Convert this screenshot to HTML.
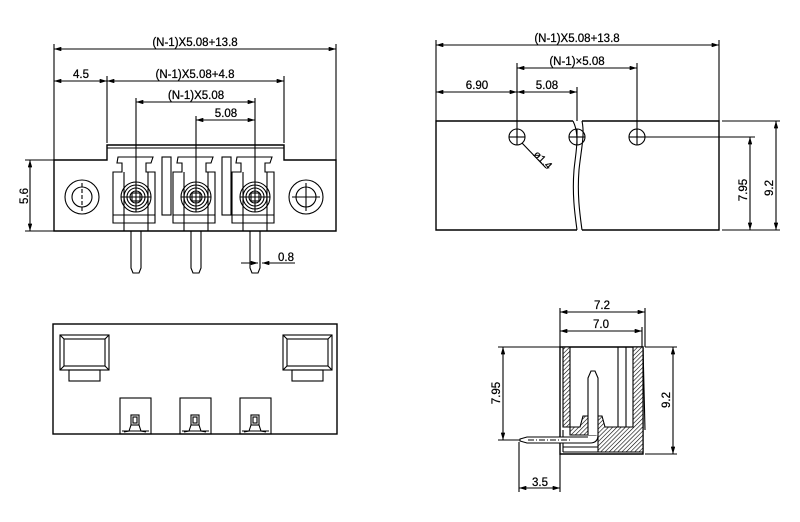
<!DOCTYPE html>
<html><head><meta charset="utf-8"><style>
html,body{margin:0;padding:0;background:#fff}
svg{display:block}
text{font-family:"Liberation Sans",sans-serif;font-size:11.5px;fill:#000;stroke:#000;stroke-width:0.25}
</style></head><body>
<svg width="800" height="522" viewBox="0 0 800 522" xmlns="http://www.w3.org/2000/svg">
<defs>
<pattern id="h" width="3" height="3" patternUnits="userSpaceOnUse" patternTransform="rotate(45)">
<rect width="3" height="3" fill="#fff"/><line x1="0" y1="0" x2="0" y2="3" stroke="#000" stroke-width="1.2"/></pattern>
<marker id="a" viewBox="0 0 10 6" refX="10" refY="3" markerWidth="8" markerHeight="4" orient="auto-start-reverse"><path d="M0,0L10,3L0,6z"/></marker>
</defs>
<g stroke="#000" fill="none" stroke-width="1.1">
<!-- TOP LEFT -->
<line x1="54" y1="44" x2="54" y2="160"/><line x1="336" y1="44" x2="336" y2="160"/>
<line x1="54" y1="49" x2="336" y2="49" marker-start="url(#a)" marker-end="url(#a)"/>
<line x1="107" y1="76" x2="107" y2="143"/><line x1="284" y1="76" x2="284" y2="143"/>
<line x1="54" y1="81" x2="107" y2="81" marker-start="url(#a)" marker-end="url(#a)"/>
<line x1="107" y1="81" x2="284" y2="81" marker-start="url(#a)" marker-end="url(#a)"/>
<line x1="136" y1="98" x2="136" y2="212"/><line x1="255" y1="98" x2="255" y2="212"/><line x1="196" y1="116" x2="196" y2="212"/>
<line x1="136" y1="102" x2="255" y2="102" marker-start="url(#a)" marker-end="url(#a)"/>
<line x1="196" y1="120" x2="255" y2="120" marker-start="url(#a)" marker-end="url(#a)"/>
<path d="M54,160 H107 V145 H284 V160 H336 V231 H54 Z" stroke-width="1.4"/>
<line x1="107" y1="148" x2="284" y2="148"/>
<line x1="25" y1="160" x2="54" y2="160"/><line x1="25" y1="231" x2="54" y2="231"/>
<line x1="30" y1="160" x2="30" y2="231" marker-start="url(#a)" marker-end="url(#a)"/>
<circle cx="82" cy="197" r="17"/><circle cx="82" cy="197" r="10"/>
<line x1="82" y1="183" x2="82" y2="211" stroke-dasharray="4,2"/>
<circle cx="306" cy="197" r="17"/><circle cx="306" cy="197" r="10"/>
<line x1="292" y1="197" x2="320" y2="197"/><line x1="306" y1="183" x2="306" y2="211"/>
<g id="cell">
<path d="M118,157 H153 L151,163 H146 V172 H155 V223 H113 V172 H122 V163 H117 Z"/>
<line x1="124" y1="172" x2="124" y2="231"/><line x1="148" y1="172" x2="148" y2="231"/>
<line x1="113" y1="215" x2="155" y2="215"/>
<circle cx="136" cy="197" r="15"/><circle cx="136" cy="197" r="12"/><circle cx="136" cy="197" r="9"/><circle cx="136" cy="197" r="6"/>
<rect x="132" y="193" width="8" height="8"/>
<line x1="121" y1="197" x2="151" y2="197"/>
<path d="M131,231 V268 L133,273 H139 L141,268 V231"/>
</g>
<use href="#cell" x="60"/><use href="#cell" x="119"/>
<rect x="162" y="157" width="9" height="58"/><rect x="222" y="157" width="9" height="58"/>
<line x1="241" y1="263" x2="258" y2="263" marker-end="url(#a)"/>
<line x1="283" y1="263" x2="262" y2="263" marker-end="url(#a)"/>
<line x1="262" y1="263" x2="295" y2="263"/>
<!-- TOP RIGHT -->
<line x1="436" y1="40" x2="436" y2="121"/><line x1="719" y1="40" x2="719" y2="121"/>
<line x1="436" y1="45" x2="719" y2="45" marker-start="url(#a)" marker-end="url(#a)"/>
<line x1="517" y1="63" x2="517" y2="137"/><line x1="637" y1="63" x2="637" y2="137"/>
<line x1="517" y1="68" x2="637" y2="68" marker-start="url(#a)" marker-end="url(#a)"/>
<line x1="577" y1="87" x2="577" y2="121"/>
<line x1="436" y1="92" x2="517" y2="92" marker-start="url(#a)" marker-end="url(#a)"/>
<line x1="517" y1="92" x2="577" y2="92" marker-start="url(#a)" marker-end="url(#a)"/>
<path d="M573,121 H436 V230 H577 M582,121 H719 V230 H582" stroke-width="1.4"/>
<path d="M573,121 C580,135 576,150 574,170 C572,195 575,215 577,230"/>
<path d="M582,121 C585,135 581,150 579,170 C577,195 580,215 582,230"/>
<circle cx="517" cy="137" r="8"/><line x1="509" y1="137" x2="525" y2="137"/><line x1="517" y1="129" x2="517" y2="145"/>
<circle cx="577" cy="137" r="8"/><line x1="569" y1="137" x2="585" y2="137"/><line x1="577" y1="129" x2="577" y2="145"/>
<circle cx="637" cy="137" r="8"/><line x1="629" y1="137" x2="645" y2="137"/><line x1="637" y1="129" x2="637" y2="145"/>
<line x1="522" y1="143" x2="546" y2="168"/>
<line x1="645" y1="137" x2="755" y2="137"/>
<line x1="722" y1="121" x2="780" y2="121"/><line x1="722" y1="230" x2="780" y2="230"/>
<line x1="750" y1="137" x2="750" y2="230" marker-start="url(#a)" marker-end="url(#a)"/>
<line x1="776" y1="121" x2="776" y2="230" marker-start="url(#a)" marker-end="url(#a)"/>
<!-- BOTTOM LEFT -->
<rect x="53" y="324" width="284" height="110" stroke-width="1.4"/>
<rect x="60" y="335" width="49" height="35"/><rect x="64" y="339" width="41" height="27"/>
<path d="M60,335 L64,339 M109,335 L105,339 M60,370 L64,366 M109,370 L105,366"/>
<rect x="69" y="370" width="31" height="11"/>
<rect x="283" y="335" width="49" height="35"/><rect x="287" y="339" width="41" height="27"/>
<path d="M283,335 L287,339 M332,335 L328,339 M283,370 L287,366 M332,370 L328,366"/>
<rect x="292" y="370" width="31" height="11"/>
<g id="sb"><rect x="120" y="398" width="31" height="36"/><rect x="131" y="415" width="8" height="10"/><rect x="133" y="417" width="4" height="6"/><path d="M131,425 L129,431 L124,432 M139,425 L141,431 L146,432 M122,431 H149"/></g>
<use href="#sb" x="60"/><use href="#sb" x="120"/>
<!-- BOTTOM RIGHT -->
<line x1="560" y1="308" x2="560" y2="347"/><line x1="645" y1="308" x2="645" y2="347"/><line x1="642" y1="327" x2="642" y2="347"/>
<line x1="560" y1="312" x2="645" y2="312" marker-start="url(#a)" marker-end="url(#a)"/>
<line x1="560" y1="331" x2="642" y2="331" marker-start="url(#a)" marker-end="url(#a)"/>
<path d="M560,347 V454 H643 V347 Z" stroke-width="1.4"/>
<path d="M560,347 H570 V427 H580 L583,416 H602 L605,427 H633 V347 H643 V452 H598 V435 H570 V427 H563 V347 Z" fill="url(#h)"/>
<line x1="618" y1="347" x2="618" y2="427"/><line x1="626" y1="347" x2="626" y2="427"/>
<line x1="643" y1="347" x2="645" y2="430"/>
<path d="M563,447 H598 M563,452 H598 M563,430 V452" />
<path d="M588,435 V378 L591,371 H595 L598,378 V435" fill="#fff"/>
<path d="M598,435 Q598,443 590,443 H527 L520,441 V439 L527,437 H588" fill="#fff"/>
<line x1="528" y1="440" x2="570" y2="440" stroke-dasharray="6,2,1,2"/>
<line x1="498" y1="347" x2="560" y2="347"/><line x1="498" y1="440" x2="520" y2="440"/>
<line x1="503" y1="347" x2="503" y2="440" marker-start="url(#a)" marker-end="url(#a)"/>
<line x1="645" y1="347" x2="677" y2="347"/><line x1="645" y1="454" x2="677" y2="454"/>
<line x1="673" y1="347" x2="673" y2="454" marker-start="url(#a)" marker-end="url(#a)"/>
<line x1="519" y1="442" x2="519" y2="492"/><line x1="560" y1="454" x2="560" y2="492"/>
<line x1="519" y1="488" x2="560" y2="488" marker-start="url(#a)" marker-end="url(#a)"/>
</g>
<text x="195" y="46" text-anchor="middle">(N-1)X5.08+13.8</text>
<text x="81" y="78" text-anchor="middle">4.5</text>
<text x="195" y="78" text-anchor="middle">(N-1)X5.08+4.8</text>
<text x="196" y="99" text-anchor="middle">(N-1)X5.08</text>
<text x="226" y="117" text-anchor="middle">5.08</text>
<text x="286" y="261" text-anchor="middle">0.8</text>
<text transform="translate(28,196) rotate(-90)" text-anchor="middle">5.6</text>
<text x="577" y="42" text-anchor="middle">(N-1)X5.08+13.8</text>
<text x="577" y="65" text-anchor="middle">(N-1)×5.08</text>
<text x="477" y="89" text-anchor="middle">6.90</text>
<text x="547" y="89" text-anchor="middle">5.08</text>
<text transform="translate(533,155) rotate(45)" style="font-size:10.5px">ø1.4</text>
<text transform="translate(747,190) rotate(-90)" text-anchor="middle">7.95</text>
<text transform="translate(773,188) rotate(-90)" text-anchor="middle">9.2</text>
<text x="602" y="309" text-anchor="middle">7.2</text>
<text x="601" y="328" text-anchor="middle">7.0</text>
<text transform="translate(500,393) rotate(-90)" text-anchor="middle">7.95</text>
<text transform="translate(670,400) rotate(-90)" text-anchor="middle">9.2</text>
<text x="540" y="486" text-anchor="middle">3.5</text>
</svg>
</body></html>
